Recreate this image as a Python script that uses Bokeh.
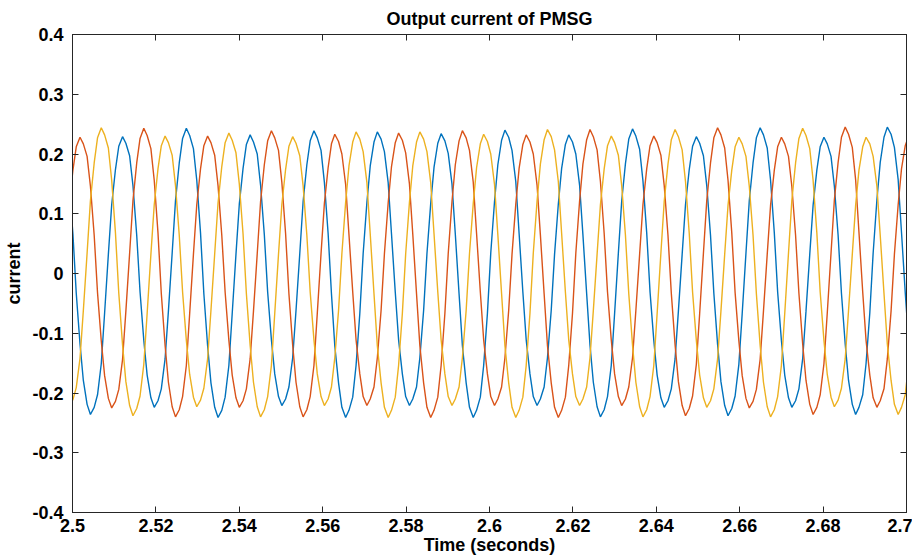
from bokeh.plotting import figure
from bokeh.models import LinearAxis, FixedTicker, Range1d, CustomJSTickFormatter
from bokeh.embed import file_html
from bokeh.resources import INLINE

# ---- data ---------------------------------------------------------------
time_s = [
    2.4992, 2.5001, 2.5009, 2.5018, 2.5026, 2.5035, 2.5043, 2.5052, 2.5060, 2.5069,
    2.5077, 2.5086, 2.5094, 2.5103, 2.5111, 2.5120, 2.5128, 2.5137, 2.5145, 2.5154,
    2.5162, 2.5171, 2.5179, 2.5188, 2.5196, 2.5205, 2.5213, 2.5222, 2.5230, 2.5239,
    2.5247, 2.5256, 2.5264, 2.5273, 2.5281, 2.5290, 2.5298, 2.5307, 2.5315, 2.5324,
    2.5332, 2.5341, 2.5349, 2.5358, 2.5366, 2.5375, 2.5383, 2.5392, 2.5400, 2.5409,
    2.5417, 2.5426, 2.5434, 2.5443, 2.5451, 2.5460, 2.5468, 2.5477, 2.5485, 2.5494,
    2.5502, 2.5511, 2.5519, 2.5528, 2.5536, 2.5545, 2.5553, 2.5562, 2.5570, 2.5579,
    2.5587, 2.5596, 2.5604, 2.5613, 2.5621, 2.5629, 2.5638, 2.5646, 2.5655, 2.5663,
    2.5672, 2.5680, 2.5689, 2.5697, 2.5706, 2.5714, 2.5723, 2.5731, 2.5740, 2.5748,
    2.5757, 2.5765, 2.5774, 2.5782, 2.5791, 2.5799, 2.5808, 2.5816, 2.5825, 2.5833,
    2.5842, 2.5850, 2.5859, 2.5867, 2.5876, 2.5884, 2.5893, 2.5901, 2.5910, 2.5918,
    2.5927, 2.5935, 2.5944, 2.5952, 2.5961, 2.5969, 2.5978, 2.5986, 2.5995, 2.6003,
    2.6012, 2.6020, 2.6029, 2.6037, 2.6046, 2.6054, 2.6063, 2.6071, 2.6080, 2.6088,
    2.6097, 2.6105, 2.6114, 2.6122, 2.6131, 2.6139, 2.6148, 2.6156, 2.6165, 2.6173,
    2.6182, 2.6190, 2.6199, 2.6207, 2.6216, 2.6224, 2.6233, 2.6241, 2.6249, 2.6258,
    2.6266, 2.6275, 2.6283, 2.6292, 2.6300, 2.6309, 2.6317, 2.6326, 2.6334, 2.6343,
    2.6351, 2.6360, 2.6368, 2.6377, 2.6385, 2.6394, 2.6402, 2.6411, 2.6419, 2.6428,
    2.6436, 2.6445, 2.6453, 2.6462, 2.6470, 2.6479, 2.6487, 2.6496, 2.6504, 2.6513,
    2.6521, 2.6530, 2.6538, 2.6547, 2.6555, 2.6564, 2.6572, 2.6581, 2.6589, 2.6598,
    2.6606, 2.6615, 2.6623, 2.6632, 2.6640, 2.6649, 2.6657, 2.6666, 2.6674, 2.6683,
    2.6691, 2.6700, 2.6708, 2.6717, 2.6725, 2.6734, 2.6742, 2.6751, 2.6759, 2.6768,
    2.6776, 2.6785, 2.6793, 2.6802, 2.6810, 2.6819, 2.6827, 2.6836, 2.6844, 2.6853,
    2.6861, 2.6870, 2.6878, 2.6886, 2.6895, 2.6903, 2.6912, 2.6920, 2.6929, 2.6937,
    2.6946, 2.6954, 2.6963, 2.6971, 2.6980, 2.6988, 2.6997, 2.7005,
]

# phase A (blue)
current_a = [
    0.150, 0.066,
    -0.033, -0.118, -0.179, -0.219, -0.236, -0.224, -0.203, -0.151, -0.066,
    0.032, 0.115, 0.174, 0.213, 0.229, 0.218, 0.197, 0.147, 0.064,
    -0.031, -0.112, -0.170, -0.208, -0.224, -0.213, -0.193, -0.143, -0.063,
    0.034, 0.122, 0.185, 0.226, 0.243, 0.231, 0.209, 0.156, 0.068,
    -0.034, -0.121, -0.183, -0.224, -0.241, -0.229, -0.207, -0.154, -0.067,
    0.032, 0.116, 0.176, 0.216, 0.232, 0.220, 0.200, 0.148, 0.065,
    -0.031, -0.111, -0.168, -0.206, -0.221, -0.210, -0.190, -0.141, -0.062,
    0.033, 0.120, 0.182, 0.222, 0.239, 0.227, 0.206, 0.153, 0.067,
    -0.034, -0.121, -0.183, -0.224, -0.241, -0.229, -0.207, -0.154, -0.067,
    0.033, 0.119, 0.180, 0.220, 0.237, 0.225, 0.204, 0.152, 0.066,
    -0.031, -0.111, -0.168, -0.206, -0.221, -0.210, -0.190, -0.141, -0.062,
    0.033, 0.117, 0.178, 0.218, 0.234, 0.222, 0.201, 0.150, 0.066,
    -0.034, -0.121, -0.183, -0.224, -0.241, -0.229, -0.207, -0.154, -0.067,
    0.034, 0.120, 0.182, 0.223, 0.240, 0.228, 0.206, 0.154, 0.067,
    -0.031, -0.111, -0.168, -0.206, -0.221, -0.210, -0.190, -0.141, -0.062,
    0.032, 0.116, 0.176, 0.216, 0.232, 0.220, 0.200, 0.148, 0.065,
    -0.034, -0.120, -0.182, -0.223, -0.240, -0.228, -0.206, -0.154, -0.067,
    0.034, 0.121, 0.184, 0.225, 0.242, 0.230, 0.208, 0.155, 0.068,
    -0.031, -0.112, -0.170, -0.208, -0.224, -0.213, -0.193, -0.143, -0.063,
    0.032, 0.115, 0.174, 0.213, 0.229, 0.218, 0.197, 0.147, 0.064,
    -0.033, -0.119, -0.181, -0.221, -0.238, -0.226, -0.205, -0.152, -0.067,
    0.034, 0.122, 0.185, 0.227, 0.244, 0.232, 0.210, 0.156, 0.068,
    -0.031, -0.112, -0.170, -0.208, -0.224, -0.213, -0.193, -0.143, -0.063,
    0.032, 0.114, 0.173, 0.212, 0.228, 0.217, 0.196, 0.146, 0.064,
    -0.033, -0.118, -0.179, -0.219, -0.236, -0.224, -0.203, -0.151, -0.066,
    0.034, 0.123, 0.186, 0.228, 0.245, 0.233, 0.211, 0.157, 0.069,
    -0.032, -0.113,
]

# phase B (red)
current_b = [
    0.114, 0.173, 0.212, 0.228, 0.217, 0.196, 0.146, 0.064,
    -0.032, -0.113, -0.171, -0.209, -0.225, -0.214, -0.194, -0.144, -0.063,
    0.034, 0.122, 0.185, 0.226, 0.243, 0.231, 0.209, 0.156, 0.068,
    -0.034, -0.120, -0.182, -0.223, -0.240, -0.228, -0.206, -0.154, -0.067,
    0.032, 0.115, 0.175, 0.214, 0.230, 0.219, 0.198, 0.147, 0.064,
    -0.031, -0.112, -0.170, -0.208, -0.224, -0.213, -0.193, -0.143, -0.063,
    0.033, 0.120, 0.182, 0.222, 0.239, 0.227, 0.206, 0.153, 0.067,
    -0.034, -0.120, -0.182, -0.223, -0.240, -0.228, -0.206, -0.154, -0.067,
    0.033, 0.117, 0.177, 0.217, 0.233, 0.221, 0.200, 0.149, 0.065,
    -0.031, -0.111, -0.168, -0.206, -0.221, -0.210, -0.190, -0.141, -0.062,
    0.033, 0.118, 0.179, 0.219, 0.235, 0.223, 0.202, 0.150, 0.066,
    -0.034, -0.121, -0.183, -0.224, -0.241, -0.229, -0.207, -0.154, -0.067,
    0.033, 0.120, 0.182, 0.222, 0.239, 0.227, 0.206, 0.153, 0.067,
    -0.031, -0.111, -0.168, -0.206, -0.221, -0.210, -0.190, -0.141, -0.062,
    0.032, 0.116, 0.176, 0.216, 0.232, 0.220, 0.200, 0.148, 0.065,
    -0.034, -0.121, -0.183, -0.224, -0.241, -0.229, -0.207, -0.154, -0.067,
    0.034, 0.121, 0.183, 0.224, 0.241, 0.229, 0.207, 0.154, 0.067,
    -0.031, -0.111, -0.168, -0.206, -0.221, -0.210, -0.190, -0.141, -0.062,
    0.032, 0.115, 0.175, 0.214, 0.230, 0.219, 0.198, 0.147, 0.064,
    -0.033, -0.119, -0.181, -0.221, -0.238, -0.226, -0.205, -0.152, -0.067,
    0.034, 0.122, 0.185, 0.227, 0.244, 0.232, 0.210, 0.156, 0.068,
    -0.032, -0.113, -0.171, -0.209, -0.225, -0.214, -0.194, -0.144, -0.063,
    0.032, 0.114, 0.173, 0.212, 0.228, 0.217, 0.196, 0.146, 0.064,
    -0.033, -0.118, -0.179, -0.219, -0.236, -0.224, -0.203, -0.151, -0.066,
    0.034, 0.123, 0.186, 0.228, 0.245, 0.233, 0.211, 0.157, 0.069,
    -0.031, -0.112, -0.170, -0.208, -0.224, -0.213, -0.193, -0.143, -0.063,
    0.032, 0.115, 0.175, 0.214, 0.230,
]

# phase C (yellow)
current_c = [
    -0.222, -0.211, -0.191, -0.142, -0.062,
    0.034, 0.122, 0.185, 0.227, 0.244, 0.232, 0.210, 0.156, 0.068,
    -0.033, -0.119, -0.181, -0.221, -0.238, -0.226, -0.205, -0.152, -0.067,
    0.032, 0.115, 0.175, 0.214, 0.230, 0.219, 0.198, 0.147, 0.064,
    -0.031, -0.112, -0.169, -0.207, -0.223, -0.212, -0.192, -0.143, -0.062,
    0.033, 0.118, 0.179, 0.219, 0.235, 0.223, 0.202, 0.150, 0.066,
    -0.034, -0.120, -0.182, -0.223, -0.240, -0.228, -0.206, -0.154, -0.067,
    0.032, 0.115, 0.174, 0.213, 0.229, 0.218, 0.197, 0.147, 0.064,
    -0.031, -0.111, -0.168, -0.206, -0.221, -0.210, -0.190, -0.141, -0.062,
    0.033, 0.119, 0.180, 0.220, 0.237, 0.225, 0.204, 0.152, 0.066,
    -0.034, -0.121, -0.183, -0.224, -0.241, -0.229, -0.207, -0.154, -0.067,
    0.033, 0.119, 0.180, 0.220, 0.237, 0.225, 0.204, 0.152, 0.066,
    -0.031, -0.111, -0.168, -0.206, -0.221, -0.210, -0.190, -0.141, -0.062,
    0.033, 0.117, 0.177, 0.217, 0.233, 0.221, 0.200, 0.149, 0.065,
    -0.034, -0.121, -0.183, -0.224, -0.241, -0.229, -0.207, -0.154, -0.067,
    0.034, 0.121, 0.183, 0.224, 0.241, 0.229, 0.207, 0.154, 0.067,
    -0.031, -0.111, -0.168, -0.206, -0.221, -0.210, -0.190, -0.141, -0.062,
    0.032, 0.115, 0.175, 0.214, 0.230, 0.219, 0.198, 0.147, 0.064,
    -0.034, -0.120, -0.182, -0.223, -0.240, -0.228, -0.206, -0.154, -0.067,
    0.034, 0.121, 0.183, 0.224, 0.241, 0.229, 0.207, 0.154, 0.067,
    -0.031, -0.112, -0.170, -0.208, -0.224, -0.213, -0.193, -0.143, -0.063,
    0.032, 0.114, 0.173, 0.212, 0.228, 0.217, 0.196, 0.146, 0.064,
    -0.034, -0.120, -0.182, -0.223, -0.240, -0.228, -0.206, -0.154, -0.067,
    0.034, 0.122, 0.185, 0.226, 0.243, 0.231, 0.209, 0.156, 0.068,
    -0.031, -0.112, -0.169, -0.207, -0.223, -0.212, -0.192, -0.143, -0.062,
    0.032, 0.114, 0.173, 0.212, 0.228, 0.217, 0.196, 0.146, 0.064,
    -0.033, -0.118, -0.179, -0.219, -0.236, -0.224, -0.203, -0.151,
]

x_ticks = [2.5, 2.52, 2.54, 2.56, 2.58, 2.6, 2.62, 2.64, 2.66, 2.68, 2.7]
x_tick_labels = ["2.5", "2.52", "2.54", "2.56", "2.58", "2.6",
                 "2.62", "2.64", "2.66", "2.68", "2.7"]
y_ticks = [-0.4, -0.3, -0.2, -0.1, 0, 0.1, 0.2, 0.3, 0.4]
y_tick_labels = ["-0.4", "-0.3", "-0.2", "-0.1", "0", "0.1", "0.2", "0.3", "0.4"]

title_text = "Output current of PMSG"
x_label = "Time (seconds)"
y_label = "current"

# ---- figure -----------------------------------------------------------------
FONT = "Liberation Sans"
INK = "#262626"
colors = ["#0072BD", "#D95319", "#EDB120"]

p = figure(width=912, height=558, output_backend="svg", toolbar_location=None,
           x_range=Range1d(2.5, 2.7), y_range=Range1d(-0.4, 0.4),
           min_border_left=72, min_border_right=6, min_border_bottom=46,
           min_border_top=33)

p.background_fill_color = "white"
p.border_fill_color = "white"
p.outline_line_color = INK
p.xgrid.grid_line_color = None
p.ygrid.grid_line_color = None

p.title.text = title_text
p.title.align = "center"
p.title.text_font = FONT
p.title.text_font_style = "bold"
p.title.text_font_size = "18px"
p.title.text_color = "black"
p.title.standoff = 12

n = min(len(time_s), len(current_a), len(current_b), len(current_c))
for series, col in zip([current_a, current_b, current_c], colors):
    p.line(time_s[:n], series[:n], line_color=col, line_width=1.4)

def style_axis(ax):
    ax.major_tick_in = 6
    ax.major_tick_out = 0
    ax.minor_tick_line_color = None
    ax.axis_line_color = INK
    ax.major_tick_line_color = INK
    ax.major_label_text_font = FONT
    ax.major_label_text_font_style = "bold"
    ax.major_label_text_font_size = "18px"
    ax.major_label_text_color = "black"
    ax.axis_label_text_font = FONT
    ax.axis_label_text_font_style = "bold"
    ax.axis_label_text_font_size = "18px"
    ax.axis_label_text_color = "black"

xa = p.xaxis[0]
xa.ticker = FixedTicker(ticks=x_ticks)
xa.major_label_overrides = dict(zip(x_ticks, x_tick_labels))
xa.axis_label = x_label
style_axis(xa)
xa.major_label_standoff = 6
xa.axis_label_standoff = 0

ya = p.yaxis[0]
ya.ticker = FixedTicker(ticks=y_ticks)
ya.major_label_overrides = dict(zip(y_ticks, y_tick_labels))
ya.axis_label = y_label
style_axis(ya)
ya.major_label_standoff = 9
ya.axis_label_standoff = 5

blank = CustomJSTickFormatter(code="return ''")
top = LinearAxis(ticker=FixedTicker(ticks=x_ticks), formatter=blank)
style_axis(top)
top.major_label_standoff = 0
p.add_layout(top, "above")

right = LinearAxis(ticker=FixedTicker(ticks=y_ticks), formatter=blank)
style_axis(right)
right.major_label_standoff = 0
p.add_layout(right, "right")

open("out.html", "w").write(file_html(p, INLINE))
